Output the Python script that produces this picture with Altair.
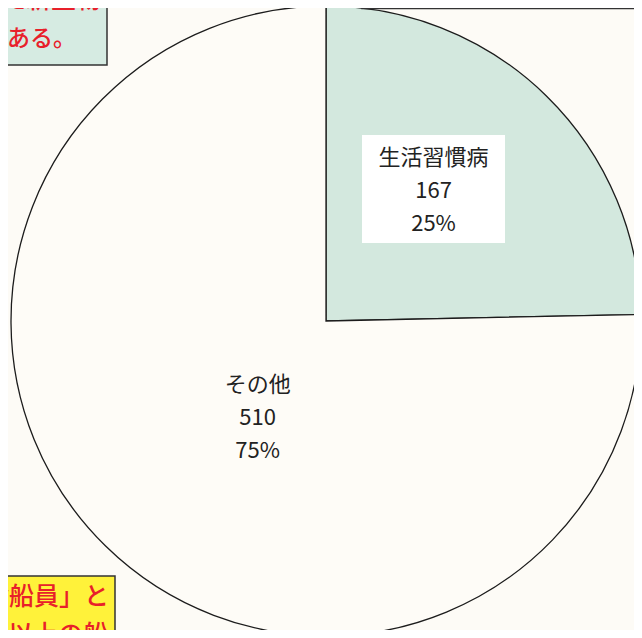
import altair as alt
import pandas as pd

categories = ["生活習慣病", "その他"]
counts = [167, 510]
percents = ["25%", "75%"]

df = pd.DataFrame({
    "cat": categories,
    "count": counts,
    "pct": percents,
    "order": [0, 1],
})
df["label"] = df["cat"] + "\n" + df["count"].astype(str) + "\n" + df["pct"]

W, H = 626, 622
CX, CY, R = 318, 313, 315
BG = "#fdfbf6"
FONT = "Noto Sans CJK JP"

base = alt.Chart(df)

pie = base.mark_arc(outerRadius=R, stroke="#1c1c1c", strokeWidth=1.3).encode(
    theta=alt.Theta("count:Q", stack=True),
    order=alt.Order("order:Q"),
    color=alt.Color("cat:N", scale=alt.Scale(domain=categories, range=["#d3e8de", "#fefcf7"]), legend=None),
    x=alt.value(CX), y=alt.value(CY),
)

one = pd.DataFrame({"a": [0]})

# label background box for first slice
box = alt.Chart(one).mark_rect(color="#ffffff").encode(
    x=alt.value(354), x2=alt.value(497), y=alt.value(127), y2=alt.value(235)
)

lab1 = base.mark_text(
    radius=168, fontSize=22, lineHeight=33, lineBreak="\n", font=FONT,
    color="#222222", dx=-10, dy=-43,
).encode(
    theta=alt.Theta("count:Q", stack=True), order=alt.Order("order:Q"),
    text="label:N", x=alt.value(CX), y=alt.value(CY),
    opacity=alt.condition(alt.datum.order == 0, alt.value(1), alt.value(0)),
)
lab2 = base.mark_text(
    radius=122, fontSize=22, lineHeight=33, lineBreak="\n", font=FONT,
    color="#222222", dx=17, dy=-23,
).encode(
    theta=alt.Theta("count:Q", stack=True), order=alt.Order("order:Q"),
    text="label:N", x=alt.value(CX), y=alt.value(CY),
    opacity=alt.condition(alt.datum.order == 1, alt.value(1), alt.value(0)),
)

# top-left annotation fragment
tl_box = alt.Chart(one).mark_rect(fill="#d6ebe2", stroke="#333333", strokeWidth=1.5).encode(
    x=alt.value(-20), x2=alt.value(99), y=alt.value(-20), y2=alt.value(57)
)
tl_t1 = alt.Chart(one).mark_text(fontSize=25, color="#e8202a", align="right", font=FONT, fontWeight=500).encode(
    x=alt.value(93), y=alt.value(-8), text=alt.value("た新生物")
)
tl_t2 = alt.Chart(one).mark_text(fontSize=23, color="#e8202a", align="left", font=FONT, fontWeight=500).encode(
    x=alt.value(-1), y=alt.value(31), text=alt.value("ある。")
)
# bottom-left annotation fragment
bl_box = alt.Chart(one).mark_rect(fill="#fff23a", stroke="#333333", strokeWidth=1.5).encode(
    x=alt.value(-20), x2=alt.value(107), y=alt.value(568), y2=alt.value(660)
)
bl_t1 = alt.Chart(one).mark_text(fontSize=25, color="#e8202a", align="right", font=FONT, fontWeight=500).encode(
    x=alt.value(101), y=alt.value(589), text=alt.value("齢船員」と")
)
bl_t2 = alt.Chart(one).mark_text(fontSize=25, color="#e8202a", align="right", font=FONT, fontWeight=500).encode(
    x=alt.value(100), y=alt.value(627), text=alt.value("以上の船")
)
# top-right frame fragment
tr_box = alt.Chart(one).mark_rect(fill=BG, stroke="#333333", strokeWidth=1.5).encode(
    x=alt.value(354), x2=alt.value(660), y=alt.value(-20), y2=alt.value(0.5)
)

chart = alt.layer(pie, tr_box, box, lab1, lab2, tl_box, tl_t1, tl_t2, bl_box, bl_t1, bl_t2).properties(
    width=W, height=H, background=BG, padding=0,
    autosize=alt.AutoSizeParams(type="none"),
).configure_view(stroke=None)

chart.save("out.html", embed_options={"renderer": "svg", "actions": False})
